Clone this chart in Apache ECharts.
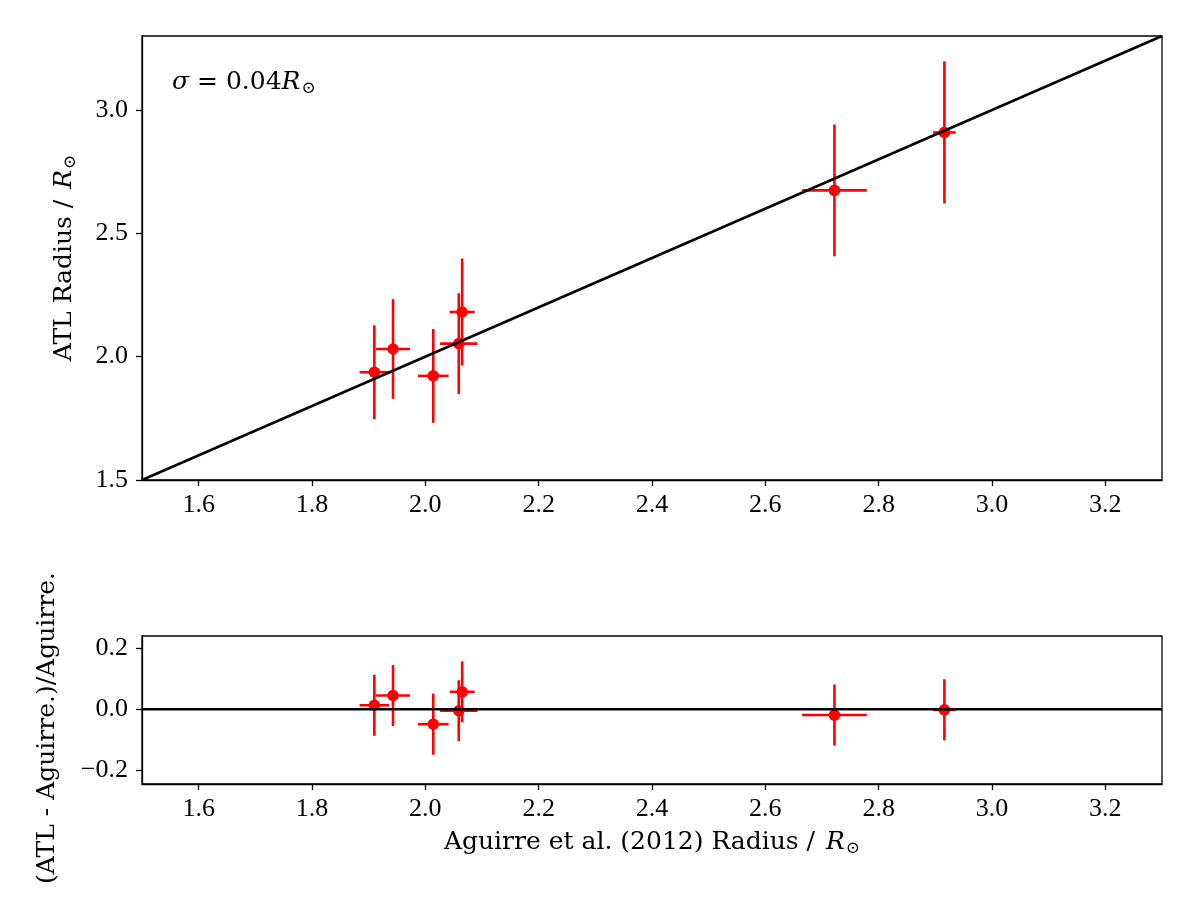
<!DOCTYPE html>
<html>
<head>
<meta charset="utf-8">
<script src="https://cdn.jsdelivr.net/npm/echarts@6/dist/echarts.min.js"></script>
<style>
html,body{margin:0;padding:0;background:#fff;}
#c{width:1200px;height:900px;}
</style>
</head>
<body>
<div id="c"></div>
<script>
// ---- data ----
const xTicks = [1.6, 1.8, 2.0, 2.2, 2.4, 2.6, 2.8, 3.0, 3.2];
const yTopTicks = [1.5, 2.0, 2.5, 3.0];
const yBotTicks = [-0.2, 0.0, 0.2];
const aguirre    = [1.910, 1.943, 2.014, 2.059, 2.065, 2.722, 2.916];
const aguirreErr = [0.026, 0.030, 0.027, 0.033, 0.022, 0.057, 0.020];
const atl        = [1.937, 2.031, 1.922, 2.053, 2.181, 2.674, 2.909];
const atlErr     = [0.190, 0.202, 0.190, 0.204, 0.217, 0.267, 0.288];
const resid      = [0.013, 0.045, -0.049, -0.005, 0.057, -0.019, -0.002];
const residErr   = [0.100, 0.100, 0.100, 0.100, 0.100, 0.100, 0.100];
const oneToOne   = [1.5, 3.3];
const zeroLine   = [0, 0];

const FONT = '"Liberation Serif", "DejaVu Serif", serif';
const LFONT = '"DejaVu Serif", "Liberation Serif", serif';
const FS = 26;
const LFS = 25;

function fmt(v) { return v.toFixed(1).replace('-', '\u2212'); }

function errRender(params, api) {
  const x = api.value(0), y = api.value(1), xe = api.value(2), ye = api.value(3);
  const c = api.coord([x, y]);
  const l = api.coord([x - xe, y]), r = api.coord([x + xe, y]);
  const t = api.coord([x, y + ye]), b = api.coord([x, y - ye]);
  const st = { stroke: '#ff0000', lineWidth: 2.6 };
  return {
    type: 'group',
    children: [
      { type: 'line', shape: { x1: l[0], y1: l[1], x2: r[0], y2: r[1] }, style: st },
      { type: 'line', shape: { x1: t[0], y1: t[1], x2: b[0], y2: b[1] }, style: st },
      { type: 'circle', shape: { cx: c[0], cy: c[1], r: 5.8 }, style: { fill: '#ff0000' } }
    ]
  };
}

const nameRich = {
  i: { fontStyle: 'italic', fontFamily: LFONT, fontSize: LFS, color: '#000', padding: [0, 0, 0, 3] },
  s: { fontFamily: LFONT, fontSize: 17, color: '#000', padding: [12, 0, 0, 1] }
};

function xAxis(gi, name) {
  return {
    type: 'value', gridIndex: gi, min: 1.5, max: 3.3,
    axisLine: { show: true, onZero: false, lineStyle: { color: '#000', width: 1.3 } },
    splitLine: { show: false },
    axisTick: { show: true, inside: false, length: 6, lineStyle: { color: '#000', width: 1.3 }, customValues: xTicks },
    axisLabel: { show: true, customValues: xTicks, formatter: fmt, color: '#000', fontFamily: FONT, fontSize: FS, margin: 12 },
    name: name || '',
    nameLocation: 'middle', nameGap: 44,
    nameTextStyle: { color: '#000', fontFamily: LFONT, fontSize: LFS, rich: nameRich }
  };
}

function yAxis(gi, min, max, ticks, name, gap) {
  return {
    type: 'value', gridIndex: gi, min: min, max: max,
    axisLine: { show: true, onZero: false, lineStyle: { color: '#000', width: 1.3 } },
    splitLine: { show: false },
    axisTick: { show: true, inside: false, length: 6, lineStyle: { color: '#000', width: 1.3 }, customValues: ticks },
    axisLabel: { show: true, customValues: ticks, formatter: fmt, color: '#000', fontFamily: FONT, fontSize: FS, margin: 14 },
    name: name, nameLocation: 'middle', nameGap: gap, nameRotate: 90,
    nameTextStyle: { color: '#000', fontFamily: LFONT, fontSize: LFS, rich: nameRich }
  };
}

const chart = echarts.init(document.getElementById('c'), null, { renderer: 'canvas' });
chart.setOption({
  animation: false,
  backgroundColor: '#fff',
  grid: [
    { left: 142, top: 36, width: 1020, height: 444, show: true, borderColor: '#000', borderWidth: 1.3, backgroundColor: 'transparent' },
    { left: 142, top: 636, width: 1020, height: 148, show: true, borderColor: '#000', borderWidth: 1.3, backgroundColor: 'transparent' }
  ],
  xAxis: [
    xAxis(0, ''),
    xAxis(1, 'Aguirre et al. (2012) Radius / {i|R}{s|\u2299}')
  ],
  yAxis: [
    yAxis(0, 1.5, 3.3, yTopTicks, 'ATL Radius / {i|R}{s|\u2299}', 63),
    yAxis(1, -0.245, 0.24, yBotTicks, '', 80)
  ],
  graphic: [
    {
      type: 'text', left: 172, top: 70,
      style: {
        text: '{i|\u03c3} = 0.04{r|R}{s|\u2299}',
        fill: '#000', fontFamily: LFONT, fontSize: LFS,
        rich: {
          i: { fontStyle: 'italic', fontFamily: LFONT, fontSize: LFS, fill: '#000' },
          r: { fontStyle: 'italic', fontFamily: LFONT, fontSize: LFS, fill: '#000' },
          s: { fontFamily: LFONT, fontSize: 17, fill: '#000', padding: [12, 0, 0, 1] }
        }
      }
    },
    {
      type: 'text', x: 47, y: 728, rotation: Math.PI / 2,
      style: {
        text: '(ATL - Aguirre.)/Aguirre.',
        fill: '#000', fontFamily: LFONT, fontSize: LFS,
        align: 'center', verticalAlign: 'middle'
      }
    }
  ],
  series: [
    {
      type: 'custom', xAxisIndex: 0, yAxisIndex: 0, z: 2, clip: true,
      renderItem: errRender, encode: { x: 0, y: 1 },
      data: aguirre.map((x, i) => [x, atl[i], aguirreErr[i], atlErr[i]])
    },
    {
      type: 'line', xAxisIndex: 0, yAxisIndex: 0, z: 3, symbol: 'none', silent: true,
      lineStyle: { color: '#000', width: 2.5 },
      data: oneToOne.map(v => [v, v])
    },
    {
      type: 'custom', xAxisIndex: 1, yAxisIndex: 1, z: 2, clip: true,
      renderItem: errRender, encode: { x: 0, y: 1 },
      data: aguirre.map((x, i) => [x, resid[i], aguirreErr[i], residErr[i]])
    },
    {
      type: 'line', xAxisIndex: 1, yAxisIndex: 1, z: 3, symbol: 'none', silent: true,
      lineStyle: { color: '#000', width: 2.5 },
      data: oneToOne.map((v, i) => [v, zeroLine[i]])
    }
  ]
});
</script>
</body>
</html>
